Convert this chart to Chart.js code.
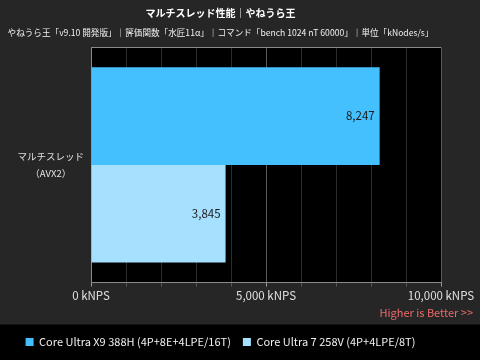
<!DOCTYPE html>
<html>
<head>
<meta charset="utf-8">
<script src="https://cdn.jsdelivr.net/npm/chart.js@4/dist/chart.umd.min.js"></script>
<style>
  html, body { margin: 0; padding: 0; background: #262626; }
  canvas { display: block; }
</style>
</head>
<body>
<canvas id="c" width="480" height="360"></canvas>
<script>
// Benchmark: YaneuraOu multi-thread performance (kNodes/s)
const chartTitle = 'マルチスレッド性能｜やねうら王';
const chartSubtitle = 'やねうら王「v9.10 開発版」｜評価関数「水匠11α」｜コマンド「bench 1024 nT 60000」｜単位「kNodes/s」';
const categories = [['マルチスレッド', '（AVX2）']];
const seriesNames = ['Core Ultra X9 388H (4P+8E+4LPE/16T)', 'Core Ultra 7 258V (4P+4LPE/8T)'];
const x9Values = [8247];
const u7Values = [3845];
const seriesColors = ['#45c0ff', '#a6e0ff'];
const xMin = 0, xMax = 10000, xStep = 1000, xLabelEvery = 5000;
const xUnit = ' kNPS';
const betterNote = 'Higher is Better >>';

const FONT = "'Noto Sans CJK JP', 'Noto Sans', sans-serif";
Chart.defaults.font.family = FONT;

// backgrounds: page grey, black plot area, black legend strip
const backdrop = {
  id: 'backdrop',
  beforeDraw(chart) {
    const { ctx, chartArea: a, width, height } = chart;
    ctx.save();
    ctx.fillStyle = '#262626';
    ctx.fillRect(0, 0, width, height);
    ctx.fillStyle = '#000';
    ctx.fillRect(a.left, a.top, a.right - a.left, a.bottom - a.top);
    ctx.fillRect(0, chart.legend.top, width, height - chart.legend.top);
    ctx.restore();
  }
};

// value labels at the end of each bar, plus the "higher is better" note
const valueLabels = {
  id: 'valueLabels',
  afterDatasetsDraw(chart) {
    const { ctx } = chart;
    ctx.save();
    ctx.font = '11.5px ' + FONT;
    ctx.fillStyle = '#1a1a1a';
    ctx.textAlign = 'right';
    ctx.textBaseline = 'middle';
    chart.data.datasets.forEach((ds, i) => {
      chart.getDatasetMeta(i).data.forEach((bar, j) => {
        ctx.fillText(ds.data[j].toLocaleString('en-US'), bar.x - 5, bar.y);
      });
    });
    ctx.font = '11px ' + FONT;
    ctx.fillStyle = '#ee6a6a';
    ctx.fillText(betterNote, 473, 313);
    ctx.restore();
  }
};

new Chart(document.getElementById('c'), {
  type: 'bar',
  data: {
    labels: categories,
    datasets: [
      { label: seriesNames[0], data: x9Values, backgroundColor: seriesColors[0] },
      { label: seriesNames[1], data: u7Values, backgroundColor: seriesColors[1] }
    ]
  },
  options: {
    indexAxis: 'y',
    responsive: false,
    animation: false,
    layout: { padding: { right: 39, bottom: 2.5 } },
    datasets: { bar: { categoryPercentage: 0.83, barPercentage: 1.0 } },
    scales: {
      x: {
        min: xMin, max: xMax,
        afterFit(s) { s.height = 42; },
        ticks: {
          stepSize: xStep, autoSkip: false, maxRotation: 0, padding: 2,
          color: '#e0e0e0', font: { size: 11.5 },
          callback: v => (v % xLabelEvery === 0 ? v.toLocaleString('en-US') + xUnit : '')
        },
        grid: {
          color: c => (c.tick && c.tick.value % xLabelEvery === 0 ? '#5a5a5a' : '#2c2c2c'),
          tickColor: c => (c.tick && c.tick.value % xLabelEvery === 0 ? '#9a9a9a' : '#555'),
          tickLength: 4
        },
        border: { color: '#8a8a8a' }
      },
      y: {
        afterFit(s) { s.width = 91; },
        ticks: { color: '#e0e0e0', font: { size: 9.5, lineHeight: 1.7 }, crossAlign: 'center', padding: 7 },
        grid: { color: '#8a8a8a', drawTicks: false, offset: true },
        border: { color: '#8a8a8a' }
      }
    },
    plugins: {
      title: {
        display: true, text: chartTitle, color: '#ffffff',
        font: { size: 10, weight: 'bold' }, padding: { top: 7, bottom: 9 }
      },
      subtitle: {
        display: true, text: chartSubtitle, color: '#f0f0f0',
        font: { size: 8.6, weight: 'normal' }, padding: { top: 0, bottom: 9 }
      },
      legend: {
        position: 'bottom',
        labels: { color: '#f0f0f0', boxWidth: 8, boxHeight: 8, padding: 12, font: { size: 11 } }
      },
      tooltip: { enabled: false }
    }
  },
  plugins: [backdrop, valueLabels]
});
</script>
</body>
</html>
